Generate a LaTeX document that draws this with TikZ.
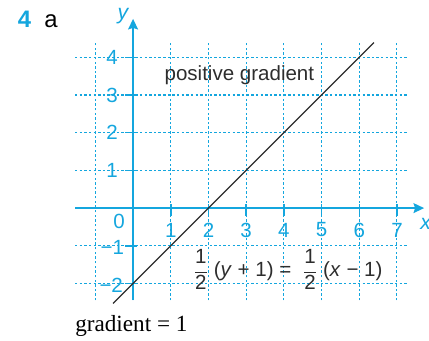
\documentclass[tikz,border=0pt]{standalone}
\usepackage{fontspec}
\setmainfont{Liberation Serif}
\setsansfont{Liberation Sans}
\usetikzlibrary{arrows.meta}
\definecolor{axisblue}{RGB}{20,166,222}
\definecolor{inkgray}{RGB}{45,45,45}

\begin{document}
\begin{tikzpicture}[x=1cm,y=1cm,>={Stealth[length=8pt,width=7.5pt,inset=1.2pt]},line join=round,
  gridline/.style={draw=axisblue,line width=0.8pt,dash pattern=on 1.8pt off 1.7pt},
  axisline/.style={draw=axisblue,line width=1.1pt},
  ticklbl/.style={text=axisblue,inner sep=0pt,font=\fontsize{15.5}{17}\selectfont\sffamily},
  plainlbl/.style={text=inkgray,inner sep=0pt,font=\fontsize{15.5}{17}\selectfont\sffamily}]
\useasboundingbox (-3.53,-3.50) rectangle (7.85,5.52);
\draw[gridline] (-1.54,-2.45) grid (7.3,4.4);
\coordinate (xs) at (-1.54,0);
\coordinate (xe) at (7.72,0);
\coordinate (ys) at (0,-2.45);
\coordinate (ye) at (0,5.02);
\draw[->,axisline] (xs) -- (xe);
\draw[->,axisline] (ys) -- (ye);
\node[ticklbl,font=\fontsize{16}{18}\selectfont\sffamily\itshape] (xlbl) at (7.76,-0.42) {x};
\node[ticklbl,font=\fontsize{16}{18}\selectfont\sffamily\itshape] (ylbl) at (-0.27,5.1) {y};
% ticks on x
\draw[axisline] (1,0.1) -- (1,-0.2);
\node[ticklbl] (x1) at (1,-0.58) {1};
\draw[axisline] (2,0.1) -- (2,-0.2);
\node[ticklbl] (x2) at (2,-0.58) {2};
\draw[axisline] (3,0.1) -- (3,-0.2);
\node[ticklbl] (x3) at (3,-0.58) {3};
\draw[axisline] (4,0.1) -- (4,-0.2);
\node[ticklbl] (x4) at (4,-0.58) {4};
\draw[axisline] (5,0.1) -- (5,-0.2);
\node[ticklbl] (x5) at (5,-0.58) {5};
\draw[axisline] (6,0.1) -- (6,-0.2);
\node[ticklbl] (x6) at (6,-0.58) {6};
\draw[axisline] (7,0.1) -- (7,-0.2);
\node[ticklbl] (x7) at (7,-0.58) {7};
\node[ticklbl] (o) at (-0.37,-0.35) {0};
% ticks on y
\draw[axisline] (-0.22,4) -- (0.1,4);
\node[ticklbl] (y4) at (-0.56,4) {4};
\draw[axisline] (-0.22,3) -- (0.1,3);
\node[ticklbl] (y3) at (-0.56,3) {3};
\draw[axisline] (-0.22,2) -- (0.1,2);
\node[ticklbl] (y2) at (-0.56,2) {2};
\draw[axisline] (-0.22,1) -- (0.1,1);
\node[ticklbl] (y1) at (-0.56,1) {1};
\draw[axisline] (-0.22,-1) -- (0.1,-1);
\node[ticklbl] (ym1) at (-0.55,-1.05) {−1};
\draw[axisline] (-0.22,-2) -- (0.1,-2);
\node[ticklbl] (ym2) at (-0.58,-2.05) {−2};
% the line y = x - 2
\coordinate (la) at (-0.53,-2.53);
\coordinate (lb) at (6.39,4.39);
\draw[inkgray,line width=0.9pt] (la) -- (lb);
\node[plainlbl] (pos) at (2.82,3.53) {positive gradient};
\node[plainlbl] (eqn) at (4.11,-1.64) {$\displaystyle\frac{\textsf{1}}{\textsf{2}}$\;(\textit{y} + 1) = \;$\displaystyle\frac{\textsf{1}}{\textsf{2}}$\;(\textit{x} − 1)};
\node[inner sep=0pt,anchor=west,font=\fontsize{17.5}{20}\selectfont] (grad) at (-1.54,-3.13) {gradient = 1};
\node[ticklbl,font=\fontsize{18}{20}\selectfont\sffamily\bfseries] (qnum) at (-2.88,5.0) {4};
\node[plainlbl,text=black,font=\fontsize{18}{20}\selectfont\sffamily] (qpart) at (-2.18,4.97) {a};
\end{tikzpicture}
\end{document}
